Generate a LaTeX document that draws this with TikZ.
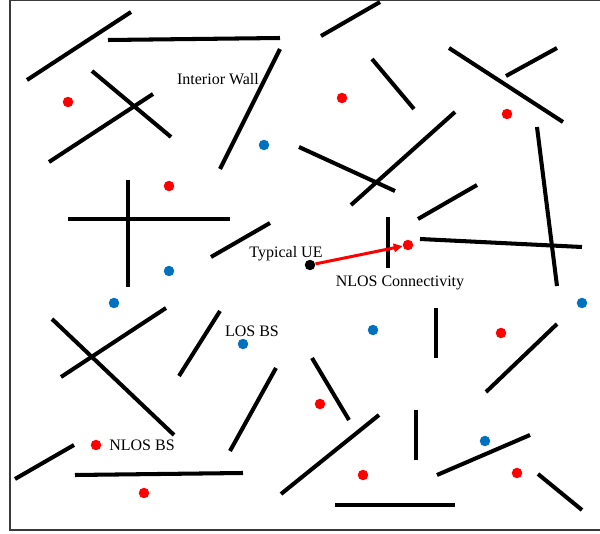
\documentclass[tikz,border=0pt]{standalone}
\usepackage{fontspec}
\setmainfont{Liberation Serif}
\usepackage{tikz}
\usetikzlibrary{arrows.meta,positioning}
\definecolor{BSred}{HTML}{FF0000}
\definecolor{BSblue}{HTML}{0070C0}
\definecolor{FrameGray}{HTML}{3A3A3A}
\tikzset{
  wall/.style={line width=2.3pt, draw=black},
  nlosbs/.style={circle, fill=BSred, minimum size=0.21cm, inner sep=0pt},
  losbs/.style={circle, fill=BSblue, minimum size=0.21cm, inner sep=0pt},
  uedot/.style={circle, fill=black, minimum size=0.21cm, inner sep=0pt},
  lbl/.style={font=\fontsize{9.1}{10.5}\selectfont, inner sep=1pt},
  frame/.style={line width=0.7pt, draw=FrameGray},
}

\begin{document}
\begin{tikzpicture}[x=0.02cm, y=-0.02cm]
\useasboundingbox (0,0) rectangle (600,534);
% frame (open on the right)
\draw[frame] (600,0.8) -- (10,0.8) -- (10,530) -- (600,530);
% ===================== interior walls
\foreach \xa/\ya/\xb/\yb in {
  27/80/131/12, 108/40/280/38, 92/71/171/137, 49/162/153/94,
  220/169/280/49, 128/180/128/287, 68/219/230/219, 211/257/270/223,
  321/36/380/2, 372/59/414/109, 449/48/563/122, 506/76/557/48,
  299/147/395/191, 351/205/455/112, 537/127/557/286, 418/219/477/185,
  388/217/388/268, 420/239/582/247,
  52/319/174/435, 61/377/166/308, 179/376/220/311, 230/451/276/368,
  15/479/74/445, 75/475/243/473, 281/494/379/415,
  436/308/436/358, 486/392/557/324, 312/358/349/420, 416/410/416/460,
  437/475/530/435, 538/474/582/510, 335/505/455/505}{
  \draw[wall] (\xa,\ya) -- (\xb,\yb);
}
% ===================== base stations
\foreach \x/\y [count=\k] in {68/102, 169/186, 342/98, 507/114, 96/445, 144/493,
  501/333, 320/404, 363/475, 517/473}{
  \node[nlosbs] (N\k) at (\x,\y) {};
}
\foreach \x/\y [count=\k] in {264/145, 169/271, 114/303, 243/344, 373/330,
  582/303, 485/441}{
  \node[losbs] (L\k) at (\x,\y) {};
}
% typical user and its NLOS link
\node[nlosbs] (target) at (408,245) {};
\node[uedot] (ue) at (310,265) {};
\draw[-{Triangle[length=5pt,width=4.8pt]}, line width=1.7pt, draw=BSred] (ue) -- (target);
% ===================== labels
\node[lbl] (wallLbl) at (218,79) {Interior Wall};
\node[lbl] (ueLbl) at (286,254) {Typical UE};
\node[lbl] (linkLbl) at (400,283) {NLOS Connectivity};
\node[lbl] (losLbl) at (252,331) {LOS BS};
\node[lbl] (nlosLbl) at (142,445) {NLOS BS};
\end{tikzpicture}
\end{document}
